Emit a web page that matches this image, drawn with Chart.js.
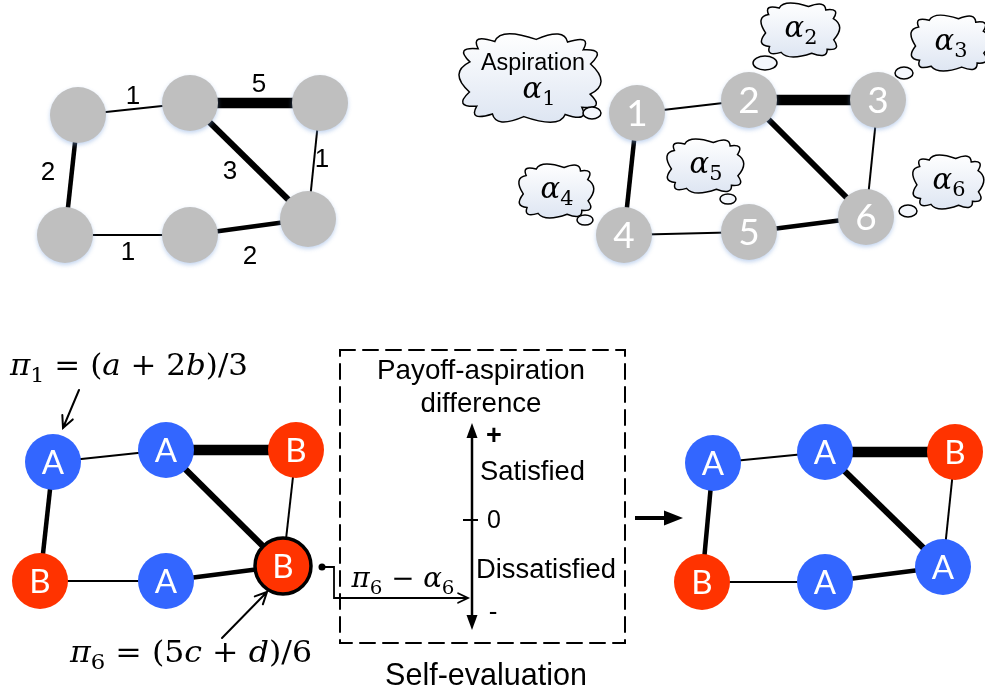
<!DOCTYPE html>
<html><head><meta charset="utf-8">
<style>html,body{margin:0;padding:0;background:#fff;}#wrap{width:985px;height:692px;}</style>
<script src="https://cdn.jsdelivr.net/npm/chart.js@4/dist/chart.umd.min.js"></script>
</head><body><div id="wrap"><canvas id="c" width="985" height="692"></canvas></div>
<script>
// ---------- data ----------
const nodeIds = ['1','2','3','4','5','6'];
const edgeFrom = [0,1,1,2,0,3,4];
const edgeTo   = [1,2,5,5,3,4,5];
const edgeWeight = [1,5,3,1,2,1,2];
const payoffStrategies  = ['A','A','B','B','A','B'];
const updatedStrategies = ['A','A','B','B','A','A'];
const aspirationSubs = ['1','2','3','4','5','6'];
const scaleTicks = ['+','0','-'];
const scaleLabels = ['Satisfied','Dissatisfied'];
const boxTitle = ['Payoff-aspiration','difference'];
const boxCaption = 'Self-evaluation';

// ---------- layout (positions in the 985x692 value space) ----------
const weightNodeX = [78,190,320,65,190,308],  weightNodeY = [115,103,103,235,235,219];
const aspNodeX    = [637,749,878,624,749,866], aspNodeY    = [113,100,100,235,232,217];
const payNodeX    = [53,166,296,40,166,283],   payNodeY    = [462,450,450,581,581,566];
const updNodeX    = [713,825,955,702,825,943], updNodeY    = [463,452,452,582,582,567];
const weightLabelPos = [[133,97],[259,85],[230,172],[322,160],[48,173],[128,253],[250,257]];
const clouds = [ // cx, cy, rx, ry, bubble x, bubble y, bubble rx, bubble ry
  [530,78,73,46, 592,113,9,6],
  [800,30,41,28, 765,63,12,7],
  [950,43,41,29, 904,73,9,6],
  [556,191,39,28, 585,220,8,5],
  [705,166,40,28, 728,199,8,5],
  [948,182,37,28, 908,211,9,6]
];
const NODE_R = 28;
const widthFor = w => ({1:2,2:4.5,3:6,5:10.5})[w];
const BLUE = '#3366ff', RED = '#ff3300', GRAY = '#bfbfbf';

function edgeDatasets(X, Y, tag) {
  return edgeFrom.map((f, i) => ({
    label: tag + 'e' + i,
    data: [{x: X[f], y: Y[f]}, {x: X[edgeTo[i]], y: Y[edgeTo[i]]}],
    showLine: true, borderColor: '#000', borderWidth: widthFor(edgeWeight[i]),
    borderCapStyle: 'butt', pointRadius: 0, order: 2, clip: false
  }));
}
function nodeDataset(X, Y, colors, tag, borders) {
  return {
    label: tag + 'nodes',
    data: X.map((x, i) => ({x, y: Y[i]})),
    pointRadius: NODE_R, pointHoverRadius: NODE_R,
    backgroundColor: colors, borderColor: '#000',
    borderWidth: borders || 0, order: 1, clip: false
  };
}
const col = s => s === 'A' ? BLUE : RED;

const datasets = [
  nodeDataset(weightNodeX, weightNodeY, GRAY, 'w'),
  nodeDataset(aspNodeX, aspNodeY, GRAY, 'a'),
  nodeDataset(payNodeX, payNodeY, payoffStrategies.map(col), 'p', [0,0,0,0,0,3.5]),
  nodeDataset(updNodeX, updNodeY, updatedStrategies.map(col), 'u'),
  ...edgeDatasets(weightNodeX, weightNodeY, 'w'),
  ...edgeDatasets(aspNodeX, aspNodeY, 'a'),
  ...edgeDatasets(payNodeX, payNodeY, 'p'),
  ...edgeDatasets(updNodeX, updNodeY, 'u')
];

// ---------- drawing helpers ----------
const SERIF = '"DejaVu Serif"';
const SANS = '"Liberation Sans", Arial, sans-serif';
function mfont(p, s) {
  if (p[1] === 'i') return `italic ${s}px ${SERIF}`;
  if (p[1] === 's') return `${(s*0.72).toFixed(1)}px ${SERIF}`;
  return `${s}px ${SERIF}`;
}
function mathW(ctx, pieces, s) {
  let w = 0; pieces.forEach(p => { ctx.font = mfont(p, s); w += ctx.measureText(p[0]).width; }); return w;
}
function drawMath(ctx, pieces, x, y, s, align, targetW) {
  const w = mathW(ctx, pieces, s);
  const k = targetW ? targetW / w : 1;
  const start = align === 'center' ? x - w*k/2 : x;
  ctx.save();
  ctx.translate(start, y); ctx.scale(k, 1);
  ctx.textAlign = 'left'; ctx.textBaseline = 'middle'; ctx.fillStyle = '#000';
  let cx = 0;
  pieces.forEach(p => {
    ctx.font = mfont(p, s);
    ctx.fillText(p[0], cx, p[1] === 's' ? s*0.32 : 0);
    cx += ctx.measureText(p[0]).width;
  });
  ctx.restore();
}
function sansText(ctx, t, x, y, s, align, bold) {
  ctx.font = `${bold ? 'bold ' : ''}${s}px ${SANS}`;
  ctx.textAlign = align; ctx.textBaseline = 'middle'; ctx.fillStyle = '#000';
  ctx.fillText(t, x, y);
}
function sansFit(ctx, t, x, y, targetW, align) {
  ctx.font = `100px ${SANS}`;
  const s = 100 * targetW / ctx.measureText(t).width;
  sansText(ctx, t, x, y, s, align);
}
// boxy (superellipse) base so the cloud looks like a rounded rectangle of bumps
function sePt(cx, cy, rx, ry, a, k) {
  const c = Math.cos(a), s = Math.sin(a), e = 2/3.2;
  return [cx + rx*k*Math.sign(c)*Math.pow(Math.abs(c), e), cy + ry*k*Math.sign(s)*Math.pow(Math.abs(s), e)];
}
function cloudPath(ctx, cx, cy, rx, ry, n) {
  ctx.beginPath();
  for (let i = 0; i < n; i++) {
    const a0 = 2*Math.PI*i/n + 0.25, a1 = 2*Math.PI*(i+1)/n + 0.25, am = (a0+a1)/2;
    const p0 = sePt(cx, cy, rx, ry, a0, 0.84), p1 = sePt(cx, cy, rx, ry, a1, 0.84);
    const pm = sePt(cx, cy, rx, ry, am, 1.12);
    if (i === 0) ctx.moveTo(p0[0], p0[1]);
    ctx.quadraticCurveTo(pm[0], pm[1], p1[0], p1[1]);
  }
  ctx.closePath();
}
function openArrow(ctx, x1, y1, x2, y2, len, lw) {
  const a = Math.atan2(y2-y1, x2-x1);
  ctx.lineWidth = lw; ctx.strokeStyle = '#000'; ctx.lineCap = 'round';
  ctx.beginPath(); ctx.moveTo(x1, y1); ctx.lineTo(x2, y2);
  ctx.moveTo(x2 - len*Math.cos(a-0.45), y2 - len*Math.sin(a-0.45));
  ctx.lineTo(x2, y2);
  ctx.lineTo(x2 - len*Math.cos(a+0.45), y2 - len*Math.sin(a+0.45));
  ctx.stroke();
}
function filledHead(ctx, x, y, a, len, hw) {
  ctx.beginPath();
  ctx.moveTo(x, y);
  ctx.lineTo(x - len*Math.cos(a) + hw*Math.sin(a), y - len*Math.sin(a) - hw*Math.cos(a));
  ctx.lineTo(x - len*Math.cos(a) - hw*Math.sin(a), y - len*Math.sin(a) + hw*Math.cos(a));
  ctx.closePath(); ctx.fillStyle = '#000'; ctx.fill();
}

const shadowPlugin = {
  id: 'nodeShadow',
  beforeDatasetDraw(chart, args) {
    const lbl = chart.data.datasets[args.index].label;
    if (lbl === 'wnodes' || lbl === 'anodes') {
      const c = chart.ctx; c.save();
      c.shadowColor = 'rgba(120,160,220,0.45)'; c.shadowBlur = 4; c.shadowOffsetY = 2;
      args.meta._shadow = true;
    }
  },
  afterDatasetDraw(chart, args) {
    if (args.meta._shadow) { chart.ctx.restore(); args.meta._shadow = false; }
  }
};

const annotPlugin = {
  id: 'annot',
  afterDatasetsDraw(chart) {
    const ctx = chart.ctx, xs = chart.scales.x, ys = chart.scales.y;
    const X = v => xs.getPixelForValue(v), Y = v => ys.getPixelForValue(v);
    ctx.save();
    // node labels
    ctx.fillStyle = '#fff'; ctx.textAlign = 'center'; ctx.textBaseline = 'middle';
    ctx.font = '37px Lato, "Open Sans", sans-serif';
    nodeIds.forEach((t, i) => ctx.fillText(t, X(aspNodeX[i]), Y(aspNodeY[i]) + 1));
    ctx.font = '33px Lato, "Open Sans", sans-serif';
    payoffStrategies.forEach((t, i) => ctx.fillText(t, X(payNodeX[i]), Y(payNodeY[i]) + 1));
    updatedStrategies.forEach((t, i) => ctx.fillText(t, X(updNodeX[i]), Y(updNodeY[i]) + 1));
    // edge weights
    edgeWeight.forEach((w, i) => sansText(ctx, String(w), X(weightLabelPos[i][0]), Y(weightLabelPos[i][1]), 26, 'center'));
    // clouds
    clouds.forEach((c, i) => {
      const g = ctx.createLinearGradient(0, Y(c[1]-c[3]), 0, Y(c[1]+c[3]));
      g.addColorStop(0, '#ffffff'); g.addColorStop(1, '#dde5f2');
      cloudPath(ctx, X(c[0]), Y(c[1]), c[2], c[3], i === 0 ? 14 : 11);
      ctx.fillStyle = g; ctx.fill(); ctx.lineWidth = 1.5; ctx.strokeStyle = '#000'; ctx.stroke();
      ctx.beginPath(); ctx.ellipse(X(c[4]), Y(c[5]), c[6], c[7], 0, 0, 2*Math.PI);
      ctx.fillStyle = '#f4f7fc'; ctx.fill(); ctx.stroke();
      if (i === 0) {
        sansFit(ctx, 'Aspiration', X(533), Y(64), 104, 'center');
        drawMath(ctx, [['α','i'],[aspirationSubs[i],'s']], X(539), Y(90), 29, 'center');
      } else {
        drawMath(ctx, [['α','i'],[aspirationSubs[i],'s']], X(c[0] + 1), Y(c[1] - 1), 29, 'center');
      }
    });
    // payoff formulas
    drawMath(ctx, [['π','i'],['1','s'],[' = (','r'],['a','i'],[' + 2','r'],['b','i'],[')/3','r']], X(10), Y(367), 29, 'left', 238);
    drawMath(ctx, [['π','i'],['6','s'],[' = (5','r'],['c','i'],[' + ','r'],['d','i'],[')/6','r']], X(70), Y(654), 29, 'left', 242);
    openArrow(ctx, X(79), Y(390), X(63), Y(428), 13, 2);
    openArrow(ctx, X(222), Y(638), X(267), Y(592), 13, 2);
    // dashed box
    ctx.setLineDash([15, 8]); ctx.lineWidth = 2; ctx.strokeStyle = '#000';
    ctx.strokeRect(X(340), Y(350), X(625) - X(340), Y(643) - Y(350));
    ctx.setLineDash([]);
    sansFit(ctx, boxTitle[0], X(481), Y(371), 208, 'center');
    sansFit(ctx, boxTitle[1], X(481), Y(404), 121, 'center');
    sansFit(ctx, boxCaption, X(486), Y(677), 202, 'center');
    // vertical double arrow
    ctx.lineWidth = 2.5; ctx.lineCap = 'butt';
    ctx.beginPath(); ctx.moveTo(X(472), Y(435)); ctx.lineTo(X(472), Y(618)); ctx.stroke();
    filledHead(ctx, X(472), Y(423), -Math.PI/2, 15, 5.5);
    filledHead(ctx, X(472), Y(630), Math.PI/2, 15, 5.5);
    ctx.lineWidth = 2;
    ctx.beginPath(); ctx.moveTo(X(463), Y(520)); ctx.lineTo(X(478), Y(520)); ctx.stroke();
    sansText(ctx, scaleTicks[0], X(494), Y(437), 27, 'center', true);
    sansText(ctx, scaleTicks[1], X(494), Y(521), 25, 'center');
    sansText(ctx, scaleTicks[2], X(493), Y(613), 26, 'center');
    sansFit(ctx, scaleLabels[0], X(480), Y(472), 105, 'left');
    sansFit(ctx, scaleLabels[1], X(476), Y(570), 140, 'left');
    // connector from node 6
    ctx.beginPath(); ctx.arc(X(322), Y(567), 3.5, 0, 2*Math.PI); ctx.fillStyle = '#000'; ctx.fill();
    ctx.lineWidth = 1.8; ctx.lineCap = 'butt'; ctx.lineJoin = 'miter';
    ctx.beginPath(); ctx.moveTo(X(322), Y(567)); ctx.lineTo(X(334), Y(567)); ctx.lineTo(X(334), Y(598)); ctx.lineTo(X(468), Y(598)); ctx.stroke();
    openArrow(ctx, X(455), Y(598), X(468), Y(598), 11, 1.8);
    drawMath(ctx, [['π','i'],['6','s'],[' − ','r'],['α','i'],['6','s']], X(403), Y(580), 27, 'center', 103);
    // transition arrow
    ctx.lineWidth = 4; ctx.lineCap = 'butt';
    ctx.beginPath(); ctx.moveTo(X(635), Y(518)); ctx.lineTo(X(666), Y(518)); ctx.stroke();
    filledHead(ctx, X(683), Y(518), 0, 19, 7.5);
    ctx.restore();
  }
};

new Chart(document.getElementById('c'), {
  type: 'scatter',
  data: { datasets },
  options: {
    responsive: false, devicePixelRatio: 1, animation: false, events: [],
    layout: { padding: 0, autoPadding: false },
    plugins: { legend: { display: false }, tooltip: { enabled: false } },
    scales: {
      x: { type: 'linear', min: 0, max: 985, display: false },
      y: { type: 'linear', min: 0, max: 692, reverse: true, display: false }
    }
  },
  plugins: [shadowPlugin, annotPlugin]
});
</script>
</body></html>
